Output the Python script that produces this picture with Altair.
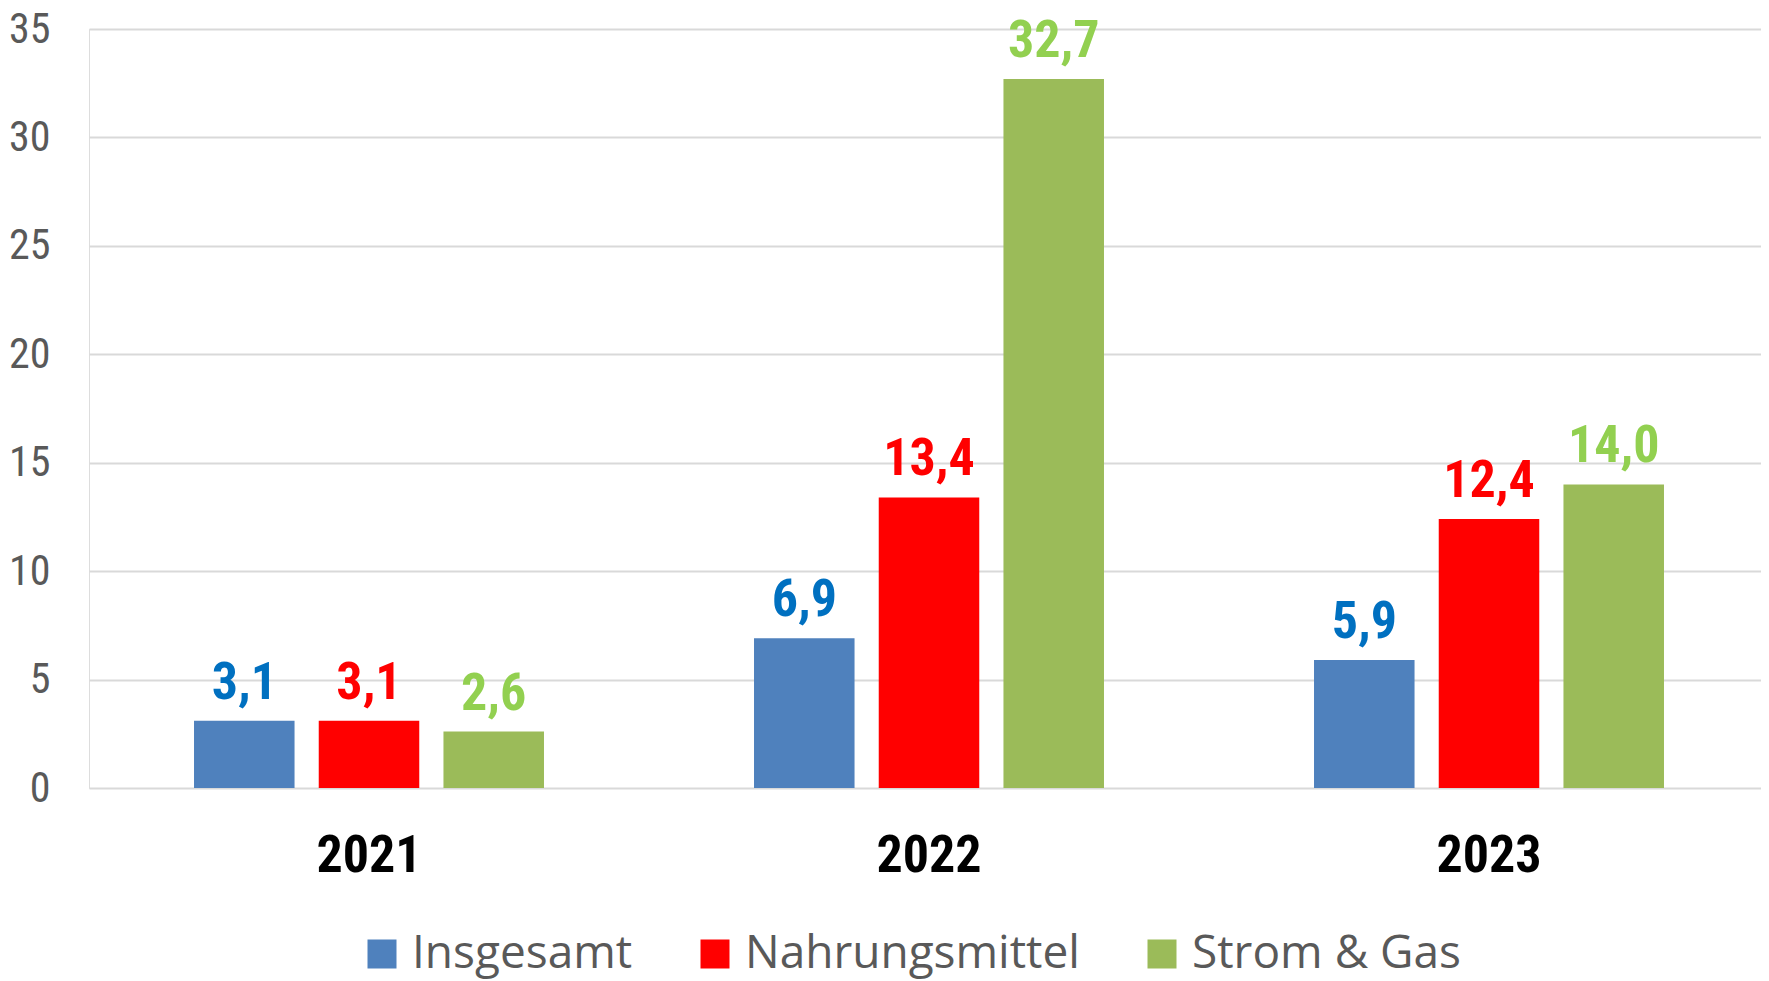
import altair as alt
import pandas as pd

years = ["2021", "2022", "2023"]
series = ["Insgesamt", "Nahrungsmittel", "Strom & Gas"]
insgesamt = [3.1, 6.9, 5.9]
nahrung = [3.1, 13.4, 12.4]
strom = [2.6, 32.7, 14.0]
bar_colors = ["#4F81BD", "#FF0000", "#9BBB59"]
label_colors = ["#0070C0", "#FF0000", "#92D050"]
y_ticks = [0, 5, 10, 15, 20, 25, 30, 35]

rows = []
for s, vals in zip(series, [insgesamt, nahrung, strom]):
    for y, v in zip(years, vals):
        rows.append({"Jahr": y, "Serie": s, "Wert": v,
                     "Label": f"{v:.1f}".replace(".", ",")})
df = pd.DataFrame(rows)

NARROW = "Liberation Sans Narrow, Arial Narrow, Roboto Condensed, Liberation Sans, sans-serif"

x_enc = alt.X("Jahr:N", sort=years, title=None,
              scale=alt.Scale(paddingInner=0, paddingOuter=0),
              axis=alt.Axis(labelAngle=0, labelFont=NARROW, labelFontSize=52,
                            labelFontWeight="bold", labelColor="#000000",
                            labelPadding=42, ticks=False, domain=False, grid=False))
xo_enc = alt.XOffset("Serie:N", sort=series,
                     scale=alt.Scale(paddingInner=0.194, paddingOuter=0.842))
y_enc = alt.Y("Wert:Q", title=None,
              scale=alt.Scale(domain=[0, 35], nice=False),
              axis=alt.Axis(values=y_ticks, labelFont=NARROW, labelFontSize=42,
                            labelColor="#595959", labelPadding=39, ticks=False,
                            domain=False, gridColor="#D9D9D9", gridWidth=2,
                            minExtent=81, maxExtent=81))

bars = alt.Chart(df).mark_bar().encode(
    x=x_enc, xOffset=xo_enc, y=y_enc,
    color=alt.Color("Serie:N", sort=series, title=None,
                    scale=alt.Scale(domain=series, range=bar_colors),
                    legend=alt.Legend(orient="none", legendX=270, legendY=902,
                                      direction="horizontal", symbolType="square",
                                      symbolSize=841, symbolStrokeWidth=0,
                                      labelFont="Open Sans", labelFontSize=46,
                                      labelColor="#595959", labelOffset=7,
                                      labelLimit=600,
                                      columnPadding=59, padding=0)),
)

labels = alt.Chart(df).mark_text(font=NARROW, fontSize=52, fontWeight="bold",
                                 baseline="alphabetic", dy=-22).encode(
    x=x_enc, xOffset=xo_enc, y=y_enc,
    text="Label:N",
    color=alt.Color("Serie:N", sort=series,
                    scale=alt.Scale(domain=series, range=label_colors), legend=None),
)

chart = alt.layer(bars, labels).resolve_scale(color="independent").properties(
    width=1680, height=759,
    padding={"top": 0, "left": 0, "right": -8, "bottom": 2},
).configure_view(stroke=None).configure(background="white")

chart.save("out.html", embed_options={"renderer": "svg", "actions": False})
